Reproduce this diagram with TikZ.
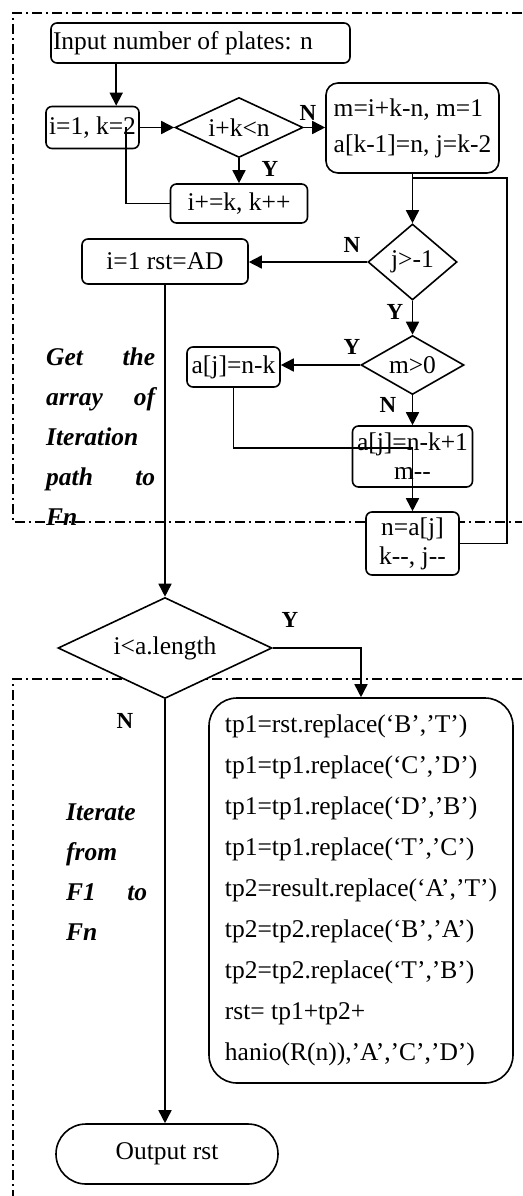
\documentclass[tikz,border=0pt]{standalone}
\usepackage{fontspec}
\setmainfont{Liberation Serif}
\usetikzlibrary{shapes.geometric,arrows.meta}

\tikzset{
  box/.style={draw, rounded corners=6pt, fill=white, line width=1.6pt, inner sep=0pt, align=center},
  decision/.style={draw, diamond, aspect=1.5, fill=white, line width=1.6pt, inner sep=0pt},
  terminal/.style={draw, rounded corners=30pt, fill=white, line width=1.6pt, inner sep=0pt},
  arrow/.style={line width=1.6pt, -{Triangle[length=13pt,width=13pt]}},
  link/.style={line width=1.6pt},
  frame/.style={line width=1.4pt, dash pattern=on 10pt off 4pt on 2pt off 4pt},
  lbl/.style={font=\fontsize{23}{26}\selectfont\bfseries, inner sep=0pt},
  side/.style={font=\fontsize{25.5}{40}\selectfont\bfseries\itshape, inner sep=0pt, anchor=base west, align=left},
}

\begin{document}
\begin{tikzpicture}[x=1pt, y=-1pt, font=\fontsize{25.5}{29}\selectfont]
  \useasboundingbox (0,0) rectangle (522,1196);

  % dash-dot frames
  \draw[frame] (522,13) -| (13,522) -- (522,522);
  \draw[frame] (522,679) -| (13,1196);

  % steps
  \node[box, text width=295pt, align=flush left, inner xsep=2pt, minimum height=40pt] (input) at (200.5,43) {Input number of plates: n};
  \node[box, minimum width=93pt, minimum height=42pt] (init) at (92.5,127.5) {i=1, k=2};
  \node[decision, minimum width=128pt, minimum height=60pt] (cond1) at (239,127.5) {i+k<n};
  \node[box, minimum width=137pt, minimum height=39pt] (inc) at (239,203.5) {i+=k, k++};
  \node[box, rounded corners=12pt, align=left, minimum width=173pt, minimum height=90pt,
    font=\fontsize{25.5}{36}\selectfont] (mbox) at (412.5,128) {m=i+k-n, m=1\\a[k-1]=n, j=k-2};
  \node[decision, minimum width=89pt, minimum height=76pt] (jcond) at (412.5,262) {j>-1};
  \node[box, minimum width=166pt, minimum height=45pt] (rst) at (165,261.5) {i=1 rst=AD};
  \node[decision, minimum width=103pt, minimum height=59pt] (mcond) at (412.5,365) {m>0};
  \node[box, minimum width=93pt, minimum height=40pt] (ajk) at (233.5,367) {a[j]=n-k};
  \node[box, minimum width=120pt, minimum height=61pt] (ajkone) at (412.5,456.5) {a[j]=n-k+1\\m{-}{-}};
  \node[box, minimum width=93pt, minimum height=63pt] (nbox) at (412.5,543.5) {n=a[j]\\k{-}{-}, j{-}{-}};
  \node[decision, minimum width=214pt, minimum height=101pt] (lencond) at (165,648) {i<a.length};
  \node[box, rounded corners=28pt, align=left, minimum width=304pt, minimum height=385pt,
    font=\fontsize{25.5}{41}\selectfont] (ops) at (361,890.5) {%
    tp1=rst.replace(‘B’,’T’)\\
    tp1=tp1.replace(‘C’,’D’)\\
    tp1=tp1.replace(‘D’,’B’)\\
    tp1=tp1.replace(‘T’,’C’)\\
    tp2=result.replace(‘A’,’T’)\\
    tp2=tp2.replace(‘B’,’A’)\\
    tp2=tp2.replace(‘T’,’B’)\\
    rst= tp1+tp2+\\
    hanio(R(n)),’A’,’C’,’D’)};
  \node[terminal, minimum width=222pt, minimum height=60pt] (output) at (167,1154) {Output rst};

  % side notes
  \node[side, text width=109pt] (gettext) at (46,365) {Get\hfill the\\array\hfill of\\Iteration\\path\hfill to\\Fn};
  \node[side, text width=81pt] (itertext) at (66,820) {Iterate\\from\\F1\hfill to\\Fn};

  % branch labels
  \node[lbl] (nA) at (308,113) {N};
  \node[lbl] (yA) at (270,169) {Y};
  \node[lbl] (nB) at (352,245) {N};
  \node[lbl] (yB) at (395,312) {Y};
  \node[lbl] (yC) at (352,347) {Y};
  \node[lbl] (nC) at (388,405) {N};
  \node[lbl] (yD) at (290,620) {Y};
  \node[lbl] (nD) at (125,721) {N};

  % connectors
  \draw[arrow] ([xshift=66pt]input.south west) -- ([xshift=66pt]input.south west |- init.north);
  \draw[arrow] (init.east) -- (cond1.west);
  \draw[link] (inc.west) -| ([xshift=-14pt]init.east);
  \draw[arrow] (cond1.south) -- (inc.north);
  \draw[arrow] (cond1.east) -- (cond1.east -| mbox.west);
  \draw[arrow] (mbox.south) -- (jcond.north);
  \draw[link] (nbox.east) -- ++(47,0) |- ([yshift=-4pt]mbox.south);
  \draw[arrow] (jcond.west) -- (jcond.west -| rst.east);
  \draw[arrow] (jcond.south) -- (mcond.north);
  \draw[arrow] (mcond.west) -- (mcond.west -| ajk.east);
  \draw[arrow] (mcond.south) -- (ajkone.north);
  \draw[arrow] (ajkone.south) -- (nbox.north);
  \draw[link] (ajk.south) |- ([yshift=-23pt]ajkone.north) -- (ajkone.south);
  \draw[arrow] (rst.south) -- (lencond.north);
  \draw[arrow] (lencond.east) -| (ops.north);
  \draw[arrow] (lencond.south) -- (lencond.south |- output.north);
\end{tikzpicture}
\end{document}
